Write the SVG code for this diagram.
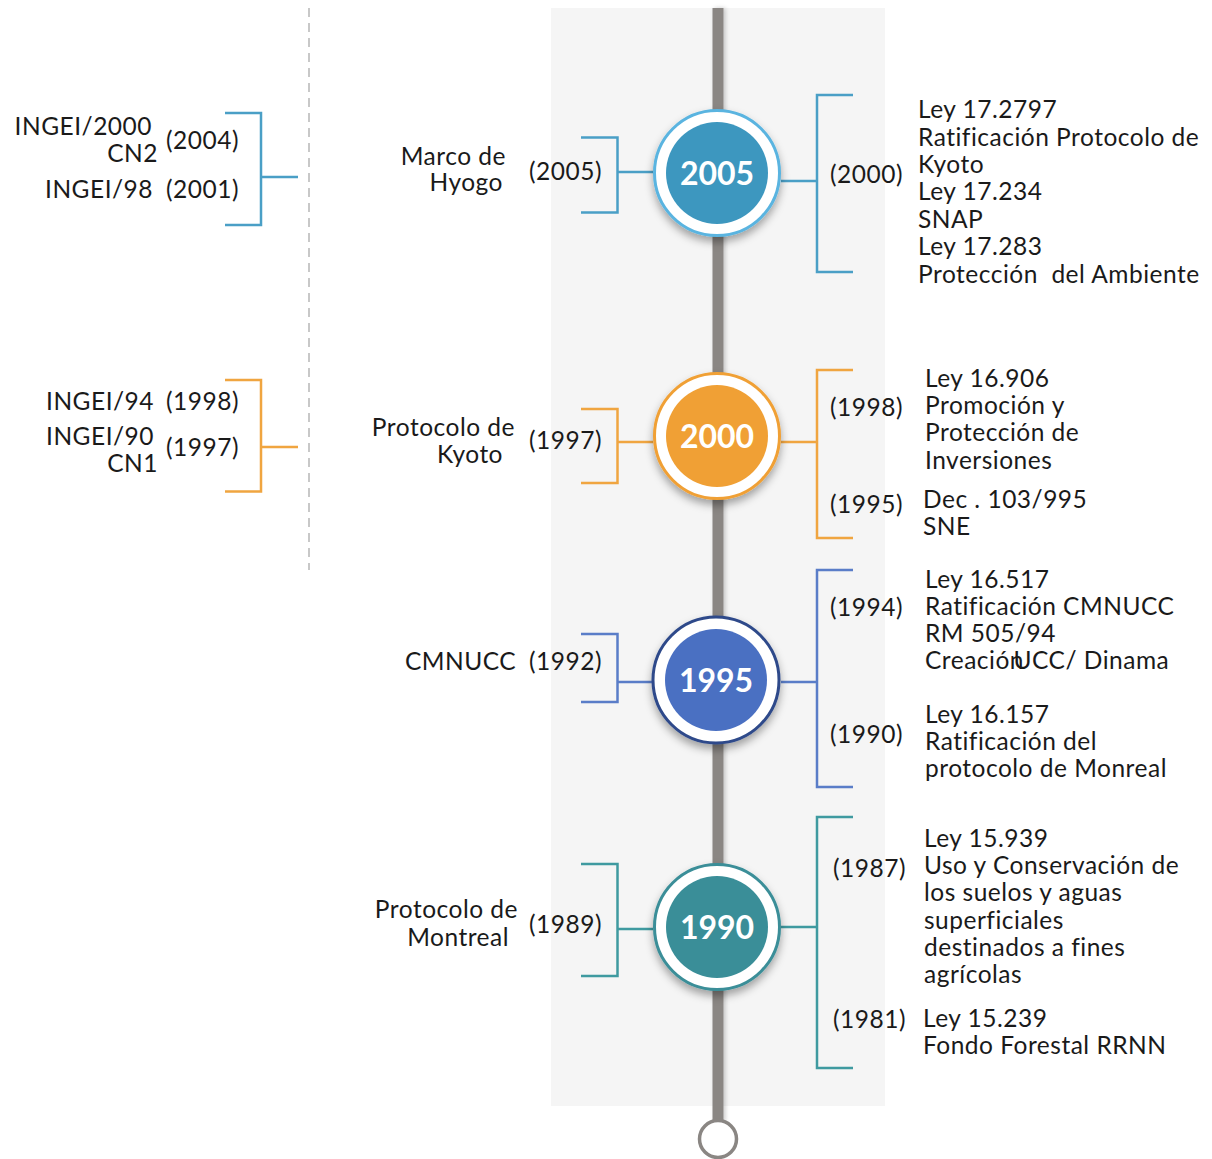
<svg xmlns="http://www.w3.org/2000/svg" width="1212" height="1159" viewBox="0 0 1212 1159">
<defs>
<filter id="sh" x="-30%" y="-30%" width="160%" height="170%">
<feDropShadow dx="0" dy="5" stdDeviation="4" flood-color="#000" flood-opacity="0.35"/>
</filter>
<filter id="bsh" x="-100%" y="-5%" width="300%" height="110%">
<feDropShadow dx="2" dy="0" stdDeviation="2" flood-color="#000" flood-opacity="0.2"/>
</filter>
</defs>
<style>
text{font-family:Lato,"Open Sans","Liberation Sans",sans-serif;font-size:24.5px;letter-spacing:0.5px;fill:#1a1a1a}
.e{text-anchor:end}
.pre{white-space:pre}
.yr{font-size:32px;font-weight:bold;fill:#fff;text-anchor:middle;letter-spacing:0}
.br{fill:none;stroke-width:2.5}
.c05{stroke:#4a9fc6}.c00{stroke:#f0a540}.c95{stroke:#5a7dc8}.c90{stroke:#3f9aa0}
.ring{fill:#fff;stroke-width:3}
</style>
<rect x="551" y="8" width="334" height="1098" fill="#f5f5f5"/>
<line x1="309" y1="8" x2="309" y2="570" stroke="#c8c8c8" stroke-width="2" stroke-dasharray="9 6"/>
<g id="timeline">
<rect x="712.5" y="8" width="11" height="1114" fill="#8a8683" filter="url(#bsh)"/>
<circle cx="718" cy="1139" r="18.5" fill="#fff" stroke="#8a8683" stroke-width="3.5"/>
</g>
<g id="connectors">
<path class="br c05" d="M225,113 H261 V225 H225 M261,177 H298"/>
<path class="br c05" d="M581,137.5 H617.5 V212.5 H581 M617.5,172 H653"/>
<path class="br c05" d="M853,95 H817 V272 H853 M781,181 H817"/>
<path class="br c00" d="M225,380 H261 V491.5 H225 M261,447 H298"/>
<path class="br c00" d="M581,409 H617.5 V483 H581 M617.5,442 H653"/>
<path class="br c00" d="M853,370 H817 V538 H853 M781,442 H817"/>
<path class="br c95" d="M581,634 H617.5 V702 H581 M617.5,682 H652"/>
<path class="br c95" d="M853,570 H817 V787 H853 M781,682 H817"/>
<path class="br c90" d="M581,864 H617.5 V976 H581 M617.5,929 H653"/>
<path class="br c90" d="M853,817 H817 V1068 H853 M781,927 H817"/>
</g>
<g id="node-2005">
<circle class="ring" cx="717" cy="173" r="62.5" stroke="#5ab4e0" filter="url(#sh)"/>
<circle cx="717" cy="173" r="51" fill="#3d97bf"/>
<text class="yr" x="717" y="185">2005</text>
</g>
<g id="node-2000">
<circle class="ring" cx="717" cy="436" r="62.5" stroke="#f0a035" filter="url(#sh)"/>
<circle cx="717" cy="436" r="51" fill="#f0a035"/>
<text class="yr" x="717" y="448">2000</text>
</g>
<g id="node-1995">
<circle class="ring" cx="716" cy="680" r="63" stroke="#2e4a8a" filter="url(#sh)"/>
<circle cx="716" cy="680" r="51" fill="#4a70c2"/>
<text class="yr" x="716" y="692">1995</text>
</g>
<g id="node-1990">
<circle class="ring" cx="717" cy="927" r="62.5" stroke="#3a8e98" filter="url(#sh)"/>
<circle cx="717" cy="927" r="51" fill="#3a8e98"/>
<text class="yr" x="717" y="939">1990</text>
</g>
<g id="left-2005">
<text class="e" x="152" y="135">INGEI/2000</text>
<text class="e" x="158" y="162">CN2</text>
<text x="166" y="149">(2004)</text>
<text class="e" x="153" y="198">INGEI/98</text>
<text x="166" y="198">(2001)</text>
</g>
<g id="left-2000">
<text class="e" x="154" y="410">INGEI/94</text>
<text x="166" y="410">(1998)</text>
<text class="e" x="154" y="445">INGEI/90</text>
<text class="e" x="158" y="472">CN1</text>
<text x="166" y="456">(1997)</text>
</g>
<g id="mid-2005">
<text class="e" x="506" y="165">Marco de</text>
<text class="e" x="503" y="191">Hyogo</text>
<text x="529" y="180">(2005)</text>
</g>
<g id="mid-2000">
<text class="e" x="515" y="436">Protocolo de</text>
<text class="e" x="503" y="463">Kyoto</text>
<text x="529" y="449">(1997)</text>
</g>
<g id="mid-1995">
<text x="405" y="670">CMNUCC <tspan x="529">(1992)</tspan></text>
</g>
<g id="mid-1990">
<text class="e" x="518" y="918">Protocolo de</text>
<text class="e" x="509" y="946">Montreal</text>
<text x="529" y="933">(1989)</text>
</g>
<g id="right-2005">
<text x="830" y="183">(2000)</text>
<text x="918" y="118">Ley 17.2797</text>
<text x="918" y="146">Ratificación Protocolo de</text>
<text x="918" y="173">Kyoto</text>
<text x="918" y="200">Ley 17.234</text>
<text x="918" y="228">SNAP</text>
<text x="918" y="255">Ley 17.283</text>
<text class="pre" x="918" y="283">Protección  del Ambiente</text>
</g>
<g id="right-2000">
<text x="830" y="416">(1998)</text>
<text x="925" y="387">Ley 16.906</text>
<text x="925" y="414">Promoción y</text>
<text x="925" y="441">Protección de</text>
<text x="925" y="469">Inversiones</text>
<text x="830" y="513">(1995)</text>
<text x="923" y="508">Dec . 103/995</text>
<text x="923" y="535">SNE</text>
</g>
<g id="right-1995">
<text x="830" y="616">(1994)</text>
<text x="925" y="588">Ley 16.517</text>
<text x="925" y="615">Ratificación CMNUCC</text>
<text x="925" y="642">RM 505/94</text>
<text x="925" y="669">Creación<tspan dx="-10">UCC/ Dinama</tspan></text>
<text x="830" y="743">(1990)</text>
<text x="925" y="723">Ley 16.157</text>
<text x="925" y="750">Ratificación del</text>
<text x="925" y="777">protocolo de Monreal</text>
</g>
<g id="right-1990">
<text x="833" y="877">(1987)</text>
<text x="924" y="847">Ley 15.939</text>
<text x="924" y="874">Uso y Conservación de</text>
<text x="924" y="901">los suelos y aguas</text>
<text x="924" y="929">superficiales</text>
<text x="924" y="956">destinados a fines</text>
<text x="924" y="983">agrícolas</text>
<text x="833" y="1028">(1981)</text>
<text x="923" y="1027">Ley 15.239</text>
<text x="923" y="1054">Fondo Forestal RRNN</text>
</g>
</svg>
